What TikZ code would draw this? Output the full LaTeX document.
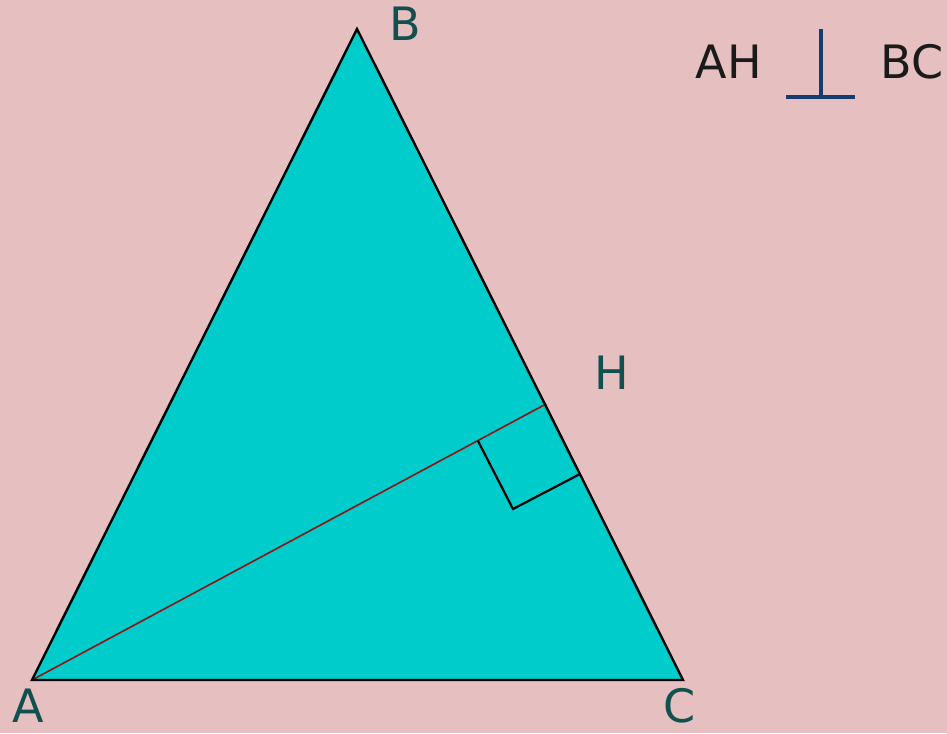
\documentclass[tikz,border=0pt]{standalone}
\usepackage{fontspec}
\setmainfont{DejaVu Sans}
\definecolor{bgpink}{RGB}{230,191,193}
\definecolor{tri}{RGB}{0,204,204}
\definecolor{lbl}{RGB}{16,80,78}
\definecolor{alt}{RGB}{140,20,20}
\definecolor{perp}{RGB}{20,60,110}
\definecolor{txt}{RGB}{26,26,26}
\begin{document}
\begin{tikzpicture}[x=1pt,y=-1pt,
  vlabel/.style={text=lbl,font=\fontsize{46}{46}\selectfont,inner sep=0pt},
  rlabel/.style={text=txt,font=\fontsize{46}{46}\selectfont,inner sep=0pt},
  edge/.style={draw=black,line width=2.4pt,line join=miter}]
\fill[bgpink] (0,0) rectangle (947,733);
\useasboundingbox (0,0) rectangle (947,733);
\coordinate (A) at (32,680);
\coordinate (B) at (357,29);
\coordinate (C) at (683,680);
\coordinate (H) at (546,404);
\coordinate (R1) at (478,441);
\coordinate (R2) at (513,509);
\coordinate (R3) at (580,474);
\fill[tri] (A) -- (B) -- (C) -- cycle;
\draw[alt,line width=1.6pt] (A) -- (H);
\draw[black,line width=2.2pt] (R1) -- (R2) -- (R3);
\draw[edge] (A) -- (B) -- (C) -- cycle;
\node[vlabel] (lA) at (28,706) {A};
\node[vlabel] (lB) at (405,24) {B};
\node[vlabel] (lC) at (680,706) {C};
\node[vlabel] (lH) at (612,373) {H};
\node[rlabel] (lAH) at (729,62) {AH};
\node[rlabel] (lBC) at (912,62) {BC};
\coordinate (P1) at (821,29);
\coordinate (P2) at (821,97);
\coordinate (P3) at (786,97);
\coordinate (P4) at (855,97);
\draw[perp,line width=4pt] (P1) -- (P2);
\draw[perp,line width=4pt] (P3) -- (P4);
\end{tikzpicture}
\end{document}
